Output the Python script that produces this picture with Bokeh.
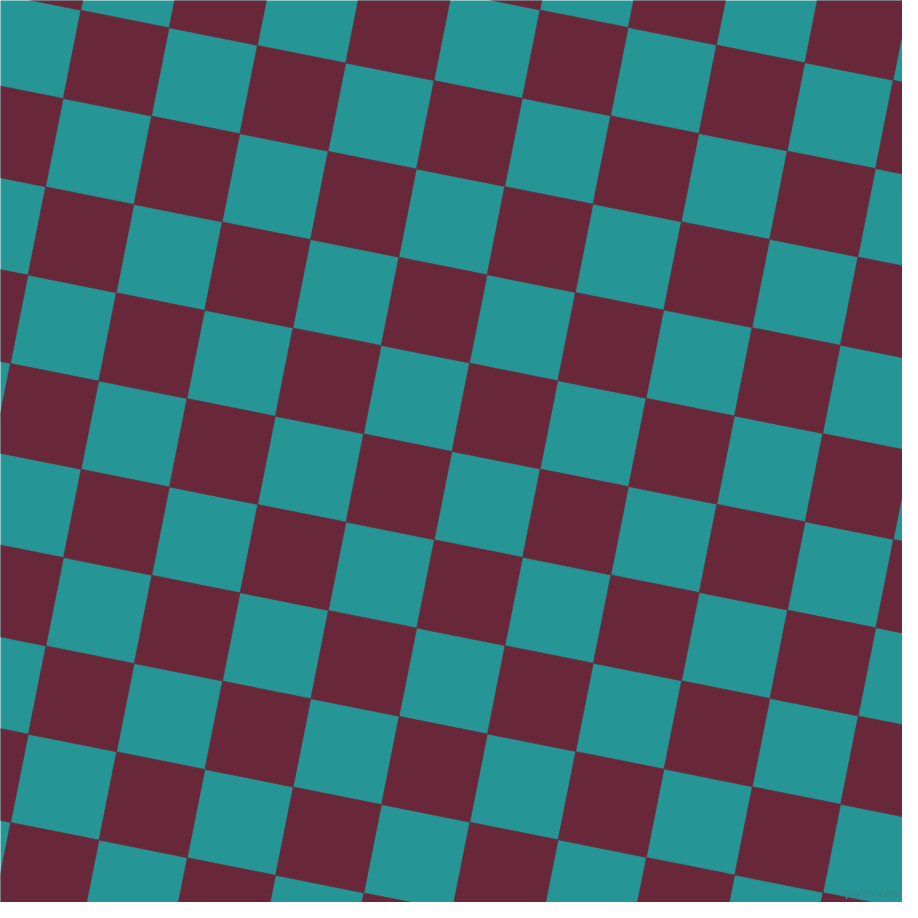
import math
from bokeh.plotting import figure
from bokeh.models import Range1d
from bokeh.core.properties import value
from bokeh.embed import file_html
from bokeh.resources import INLINE

# grid definition (checkerboard cells)
cols = list(range(-3, 13))
rows = list(range(-3, 13))
maroon = "#692839"
teal = "#259695"
watermark = "pixlis.com"

origin = (88.3, 17.7)          # a grid vertex, in reference pixel coords
u = (88.3, 17.6)               # one cell step along a row
v = (-17.6, 88.3)              # one cell step along a column

xs, ys = [], []
for i in cols:
    for j in rows:
        if (i + j) % 2 != 0:
            continue
        corners = [(i, j), (i + 1, j), (i + 1, j + 1), (i, j + 1)]
        px = [origin[0] + a * u[0] + b * v[0] for a, b in corners]
        py = [origin[1] + a * u[1] + b * v[1] for a, b in corners]
        xs.append(px)
        ys.append(py)

p = figure(width=902, height=902, output_backend="svg", toolbar_location=None,
           x_range=Range1d(8, 910), y_range=Range1d(910, 8), min_border=0)
p.axis.visible = False
p.grid.visible = False
p.outline_line_color = None
p.background_fill_color = teal
p.border_fill_color = teal

p.patches(xs, ys, fill_color=maroon, line_color=maroon, line_width=0.6)

p.text(x=[881], y=[901], text=[watermark], text_align="center", text_baseline="middle",
       text_font=value("DejaVu Sans"), text_font_size="10px", text_font_style="bold",
       text_color="#2f8c8c", text_alpha=0.9)

open("out.html", "w").write(file_html(p, INLINE))
